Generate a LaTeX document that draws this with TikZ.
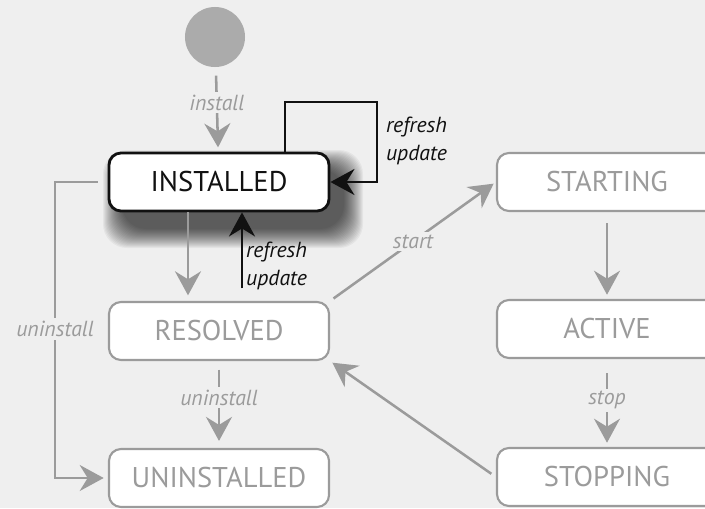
\documentclass[tikz,border=0pt]{standalone}
\usepackage{fontspec}
\setmainfont{PT Sans}
\usepackage{tikz}
\usetikzlibrary{arrows.meta,positioning}
\definecolor{StateInk}{HTML}{111111}
\definecolor{StateGray}{HTML}{9B9B9B}
\definecolor{StateDot}{HTML}{ABABAB}
\definecolor{StateBack}{HTML}{EFEFEF}

\begin{document}
\begin{tikzpicture}[
  x=0.025cm,y=-0.025cm,
  font=\fontsize{20.3}{24}\selectfont,
  >={Stealth[length=6mm,width=6.5mm,inset=2mm]},
  state/.style={draw=StateGray,line width=1.5pt,rounded corners=3mm,fill=white,
                text=StateGray,minimum width=5.5cm,minimum height=1.45cm},
  flow/.style={->,StateGray,line width=1.8pt},
  refresh/.style={->,StateInk,line width=2pt},
  lbl/.style={font=\itshape\fontsize{15.5}{20}\selectfont,text=StateGray,
              fill=StateBack,inner sep=2pt},
]
  \fill[StateBack] (0,0) rectangle (705,508);
  \clip (0,0) rectangle (705,508);

  \begin{scope}[shift={(233,199)}]
    \foreach \e in {20,19,...,1}
      \fill[black,opacity=0.045,rounded corners=6mm] (-110-\e,-29-\e) rectangle (110+\e,29+\e);
  \end{scope}

  \node[circle,fill=StateDot,minimum size=1.5cm,inner sep=0pt] (init) at (215,37) {};
  \node[state,draw=StateInk,line width=2pt,text=StateInk] (installed) at (219,182) {INSTALLED};
  \node[state] (resolved) at (219,331) {RESOLVED};
  \node[state] (uninstalled) at (219,478) {UNINSTALLED};
  \node[state] (starting) at (607,182) {STARTING};
  \node[state] (active) at (607,329) {ACTIVE};
  \node[state] (stopping) at (607,477) {STOPPING};

  \draw[flow,shorten <=6pt,shorten >=3pt] (init) -- (installed)
    node[lbl,pos=0.42] {install};
  \draw[flow,shorten >=4pt] ([shift={(-31,0)}]installed.south)
    -- ([shift={(-31,0)}]resolved.north);
  \draw[refresh,shorten <=9pt] ([shift={(23,0)}]resolved.north)
    -- ([shift={(23,0)}]installed.south)
    node[lbl,pos=0.4,right,align=left,text=StateInk,fill=none] {refresh\\update};
  \draw[flow,shorten <=6pt,shorten >=5pt] (resolved) -- (uninstalled)
    node[lbl,pos=0.42] {uninstall};

  \coordinate (drop) at (55,329);
  \draw[flow,shorten <=7pt,shorten >=3pt] (installed.west) -| (drop) |- (uninstalled.west);
  \node[lbl] at (drop) {uninstall};

  \draw[flow,shorten <=3pt,shorten >=2pt] (resolved.north east) -- (starting.west)
    node[lbl,midway] {start};
  \draw[flow,shorten <=4pt,shorten >=2pt] (stopping.west) -- (resolved.south east);
  \draw[flow,shorten <=8pt,shorten >=3pt] (starting) -- (active);
  \draw[flow,shorten <=10pt,shorten >=3pt] (active) -- (stopping)
    node[lbl,pos=0.47] {stop};

  \coordinate (loop) at (377,102);
  \draw[refresh] ([shift={(66,0)}]installed.north) |- (loop) |- (installed.east);
  \node[lbl,text=StateInk,fill=none,anchor=west,align=left] at (383,141) {refresh\\update};
\end{tikzpicture}
\end{document}
